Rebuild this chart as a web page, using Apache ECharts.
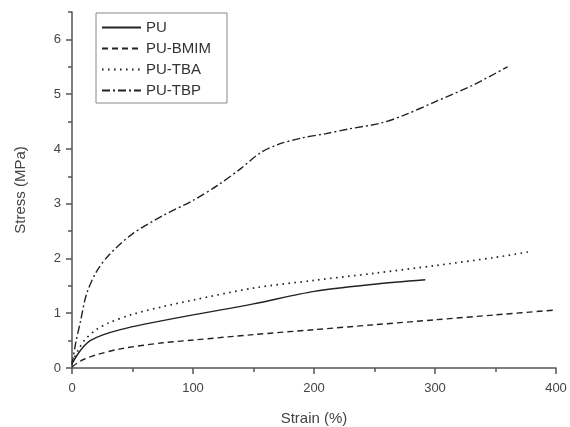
<!DOCTYPE html>
<html>
<head>
<meta charset="utf-8">
<script src="https://cdn.jsdelivr.net/npm/echarts@6/dist/echarts.min.js"></script>
<style>
  html, body { margin: 0; padding: 0; background: #fff; }
  #chart { width: 570px; height: 427px; }
</style>
</head>
<body>
<div id="chart"></div>
<script>
// strain (%), stress (MPa)
const puData = [[0, 0.08], [5, 0.26], [10, 0.4], [15, 0.5], [25, 0.6], [40, 0.7], [60, 0.8], [100, 0.97], [150, 1.17], [200, 1.4], [250, 1.53], [292, 1.61]];
const bmimData = [[0, 0.02], [5, 0.1], [10, 0.16], [20, 0.24], [40, 0.35], [75, 0.46], [100, 0.51], [150, 0.61], [200, 0.7], [250, 0.79], [300, 0.88], [350, 0.97], [400, 1.06]];
const tbaData = [[0, 0.1], [5, 0.32], [10, 0.5], [20, 0.7], [30, 0.82], [50, 0.98], [75, 1.12], [100, 1.24], [150, 1.46], [200, 1.6], [250, 1.73], [300, 1.87], [350, 2.02], [380, 2.13]];
const tbpData = [[0, 0.05], [3, 0.45], [7, 0.85], [12, 1.35], [20, 1.75], [30, 2.05], [50, 2.45], [75, 2.78], [100, 3.06], [120, 3.33], [140, 3.65], [155, 3.92], [170, 4.08], [190, 4.2], [210, 4.28], [230, 4.37], [255, 4.47], [275, 4.62], [300, 4.86], [330, 5.15], [360, 5.5]];
const seriesNames = ['PU', 'PU-BMIM', 'PU-TBA', 'PU-TBP'];
const yMajor = [0, 1, 2, 3, 4, 5, 6];
const yMinor = [0.5, 1.5, 2.5, 3.5, 4.5, 5.5, 6.5];

const ink = '#222';
const axisColor = '#555';
const textColor = '#444';
const font = 'Liberation Sans';

function lineSeries(name, data, type, width) {
  return {
    name: name,
    type: 'line',
    data: data,
    smooth: 0.3,
    symbol: 'none',
    lineStyle: { color: ink, width: width, type: type },
    itemStyle: { color: ink }
  };
}

const chart = echarts.init(document.getElementById('chart'));
chart.setOption({
  animation: false,
  backgroundColor: '#fff',
  grid: { left: 72, right: 14, top: 12, bottom: 59, outerBoundsMode: 'none' },
  legend: {
    data: seriesNames,
    orient: 'vertical',
    left: 96,
    top: 13,
    itemWidth: 39,
    itemHeight: 14,
    itemGap: 6,
    padding: [7, 16, 5, 5],
    borderColor: '#888',
    borderWidth: 1,
    itemStyle: { color: 'transparent', borderWidth: 0 },
    textStyle: { fontFamily: font, fontSize: 15, color: '#333' }
  },
  xAxis: {
    type: 'value',
    min: 0,
    max: 400,
    interval: 100,
    name: 'Strain (%)',
    nameLocation: 'middle',
    nameGap: 43,
    nameTextStyle: { fontFamily: font, fontSize: 15, color: textColor },
    axisLine: { lineStyle: { color: axisColor, width: 1.5 } },
    axisTick: { length: 6, lineStyle: { color: axisColor, width: 1.5 } },
    minorTick: { show: true, splitNumber: 2, length: 4, lineStyle: { color: axisColor, width: 1.5 } },
    axisLabel: { margin: 14, fontFamily: font, fontSize: 13, color: textColor },
    splitLine: { show: false }
  },
  yAxis: [{
    type: 'value',
    min: 0,
    max: 6.5,
    name: 'Stress (MPa)',
    nameLocation: 'middle',
    nameGap: 44,
    nameTextStyle: { fontFamily: font, fontSize: 15, color: textColor },
    axisLine: { show: true, lineStyle: { color: axisColor, width: 1.5 } },
    axisTick: { show: true, length: 6, customValues: yMajor, lineStyle: { color: axisColor, width: 1.5 } },
    axisLabel: { margin: 11, customValues: yMajor, fontFamily: font, fontSize: 13, color: textColor },
    splitLine: { show: false }
  }, {
    // minor ticks only
    type: 'value',
    min: 0,
    max: 6.5,
    position: 'left',
    offset: 0,
    axisLine: { show: false },
    axisTick: { show: true, length: 4, customValues: yMinor, lineStyle: { color: axisColor, width: 1.5 } },
    axisLabel: { show: false },
    splitLine: { show: false }
  }],
  series: [
    lineSeries('PU', puData, 'solid', 1.4),
    lineSeries('PU-BMIM', bmimData, [6, 4], 1.4),
    lineSeries('PU-TBA', tbaData, [1.6, 4.4], 1.7),
    lineSeries('PU-TBP', tbpData, [8, 3, 2, 3], 1.4)
  ]
});
</script>
</body>
</html>
